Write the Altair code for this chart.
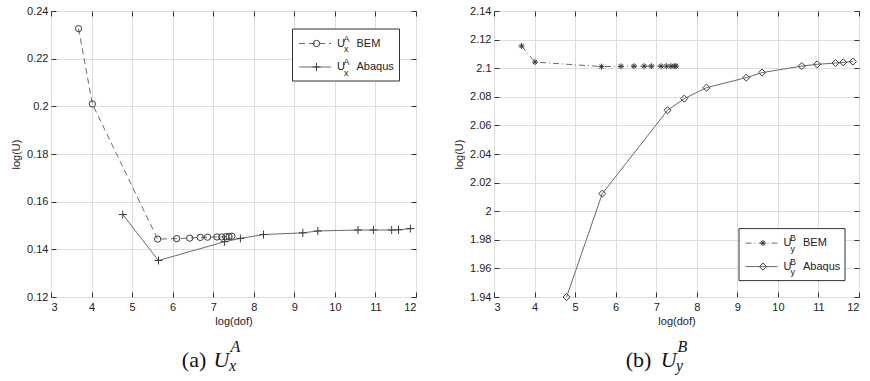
import altair as alt
import pandas as pd

# ---------------- data ----------------
# Panel (a): U_x^A
a_bem_x = [3.68, 4.02, 5.63, 6.10, 6.42, 6.68, 6.86, 7.09, 7.21, 7.31, 7.39, 7.46]
a_bem_y = [0.2326, 0.2010, 0.1443, 0.1445, 0.1447, 0.1450, 0.1451, 0.1452, 0.1452, 0.1453, 0.1454, 0.1455]
a_abq_x = [4.77, 5.65, 7.28, 7.67, 8.24, 9.21, 9.58, 10.57, 10.95, 11.40, 11.57, 11.86]
a_abq_y = [0.1546, 0.1353, 0.1432, 0.1446, 0.1462, 0.1469, 0.1477, 0.1481, 0.1481, 0.1481, 0.1482, 0.1487]

# Panel (b): U_y^B
b_bem_x = [3.68, 4.01, 5.65, 6.13, 6.45, 6.70, 6.88, 7.12, 7.25, 7.36, 7.44, 7.49]
b_bem_y = [2.1155, 2.1043, 2.1011, 2.1013, 2.1014, 2.1014, 2.1014, 2.1014, 2.1014, 2.1014, 2.1014, 2.1015]
b_abq_x = [4.79, 5.67, 7.28, 7.69, 8.24, 9.22, 9.61, 10.59, 10.97, 11.42, 11.61, 11.85]
b_abq_y = [1.9400, 2.0123, 2.0706, 2.0787, 2.0864, 2.0934, 2.0969, 2.1015, 2.1027, 2.1036, 2.1041, 2.1046]

x_ticks = [3, 4, 5, 6, 7, 8, 9, 10, 11, 12]
a_y_ticks = [0.12, 0.14, 0.16, 0.18, 0.20, 0.22, 0.24]
b_y_ticks = [1.94, 1.96, 1.98, 2.00, 2.02, 2.04, 2.06, 2.08, 2.10, 2.12, 2.14]

x_label = "log(dof)"
y_label = "log(U)"

# ---------------- styling ----------------
W, H = 365, 286
SANS = "Liberation Sans"
SERIF = "Liberation Serif"
LINE_C = "#6a6a6a"
MARK_C = "#3a3a3a"
AX_C = "#333333"

PLUS = "M-1,0L1,0M0,-1L0,1"
STAR = "M-1,0L1,0M0,-1L0,1M-0.7,-0.7L0.7,0.7M-0.7,0.7L0.7,-0.7"

one = pd.DataFrame({"k": [0]})


def axes(yticks, main):
    if main:
        ax = alt.Axis(orient="bottom", values=x_ticks, format="d", offset=-5, tickSize=5,
                      domain=False, labelPadding=4, title=x_label, titlePadding=3,
                      labelFont=SANS, titleFont=SANS, labelFontSize=11, titleFontSize=11,
                      titleFontWeight="normal", tickColor=AX_C, labelColor="#222",
                      titleColor="#222")
        ay = alt.Axis(orient="left", values=yticks, format="~g", offset=-5, tickSize=5,
                      domain=False, labelPadding=3, title=y_label, titlePadding=5,
                      labelFont=SANS, titleFont=SANS, labelFontSize=11, titleFontSize=11,
                      titleFontWeight="normal", tickColor=AX_C, labelColor="#222",
                      titleColor="#222")
    else:
        ax = alt.Axis(orient="top", values=x_ticks, labels=False, offset=-5, tickSize=5,
                      domain=False, title=None, tickColor=AX_C)
        ay = alt.Axis(orient="right", values=yticks, labels=False, offset=-5, tickSize=5,
                      domain=False, title=None, tickColor=AX_C)
    return ax, ay


def panel(bx, by, ax_, ay_, ydom, yticks, bem_shape, bem_size, bem_dash, abq_shape, abq_size,
          leg_x0, leg_y0, leg_w, sub, sup, tag, cap_offsets):
    xs = alt.Scale(domain=[3, 12], nice=False, zero=False)
    ys = alt.Scale(domain=ydom, nice=False, zero=False)
    bem = pd.DataFrame({"x": bx, "y": by})
    abq = pd.DataFrame({"x": ax_, "y": ay_})

    axm = axes(yticks, True)
    axo = axes(yticks, False)

    def enc(axis_pair):
        if axis_pair is None:
            return dict(x=alt.X("x:Q", scale=xs, axis=None), y=alt.Y("y:Q", scale=ys, axis=None))
        return dict(x=alt.X("x:Q", scale=xs, axis=axis_pair[0]),
                    y=alt.Y("y:Q", scale=ys, axis=axis_pair[1]))

    l_bem = alt.Chart(bem).mark_line(color=LINE_C, strokeWidth=1, strokeDash=bem_dash).encode(**enc(axm))
    l_abq = alt.Chart(abq).mark_line(color=LINE_C, strokeWidth=1).encode(**enc(axo))
    p_bem = alt.Chart(bem).mark_point(shape=bem_shape, size=bem_size, filled=False,
                                      color=MARK_C, strokeWidth=1, opacity=1).encode(**enc(None))
    p_abq = alt.Chart(abq).mark_point(shape=abq_shape, size=abq_size, filled=False,
                                      color=MARK_C, strokeWidth=1, opacity=1).encode(**enc(None))

    layers = [l_bem, l_abq, p_bem, p_abq]

    # legend box
    leg_h = 52
    layers.append(alt.Chart(one).mark_rect(fill="white", stroke=AX_C, strokeWidth=1).encode(
        x=alt.value(leg_x0), x2=alt.value(leg_x0 + leg_w), y=alt.value(leg_y0), y2=alt.value(leg_y0 + leg_h)))
    rows = [(leg_y0 + 14.5, bem_dash, bem_shape, bem_size, "BEM"),
            (leg_y0 + 38.0, None, abq_shape, abq_size, "Abaqus")]
    for ry, dash, shp, sz, name in rows:
        rule_kw = dict(color=LINE_C, strokeWidth=1)
        if dash is not None:
            rule_kw["strokeDash"] = dash
        layers.append(alt.Chart(one).mark_rule(**rule_kw).encode(
            x=alt.value(leg_x0 + 6.5), x2=alt.value(leg_x0 + 38.5), y=alt.value(ry)))
        layers.append(alt.Chart(one).mark_point(shape=shp, size=sz, filled=False, color=MARK_C,
                                                strokeWidth=1, opacity=1).encode(
            x=alt.value(leg_x0 + 24), y=alt.value(ry)))
        layers.append(alt.Chart(one).mark_text(text="U", font=SANS, fontSize=11, align="left",
                                               baseline="middle", color="#222").encode(
            x=alt.value(leg_x0 + 44.5), y=alt.value(ry)))
        layers.append(alt.Chart(one).mark_text(text=sup, font=SANS, fontSize=9, align="left",
                                               baseline="middle", color="#222").encode(
            x=alt.value(leg_x0 + 51), y=alt.value(ry - 5)))
        layers.append(alt.Chart(one).mark_text(text=sub, font=SANS, fontSize=9, align="left",
                                               baseline="middle", color="#222").encode(
            x=alt.value(leg_x0 + 51.5), y=alt.value(ry + 5.5)))
        layers.append(alt.Chart(one).mark_text(text=name, font=SANS, fontSize=11, align="left",
                                               baseline="middle", color="#222").encode(
            x=alt.value(leg_x0 + 64), y=alt.value(ry)))

    # caption below the panel
    c_tag, c_u, c_sup, c_sub = cap_offsets
    base_y = 356
    layers.append(alt.Chart(one).mark_text(text=tag, font=SERIF, fontSize=22, align="left",
                                           baseline="alphabetic", color="#111").encode(
        x=alt.value(c_tag), y=alt.value(base_y)))
    layers.append(alt.Chart(one).mark_text(text="U", font=SERIF, fontSize=22, fontStyle="italic",
                                           align="left", baseline="alphabetic", color="#111").encode(
        x=alt.value(c_u), y=alt.value(base_y)))
    layers.append(alt.Chart(one).mark_text(text=sup, font=SERIF, fontSize=16, fontStyle="italic",
                                           align="left", baseline="alphabetic", color="#111").encode(
        x=alt.value(c_sup), y=alt.value(base_y - 15)))
    layers.append(alt.Chart(one).mark_text(text=sub, font=SERIF, fontSize=16, fontStyle="italic",
                                           align="left", baseline="alphabetic", color="#111").encode(
        x=alt.value(c_sub), y=alt.value(base_y + 3.5)))

    return alt.layer(*layers).resolve_axis(x="independent", y="independent").properties(
        width=W, height=H)


left = panel(a_bem_x, a_bem_y, a_abq_x, a_abq_y, [0.12, 0.24], a_y_ticks,
             "circle", 40, [6, 4], PLUS, 64,
             241.5, 18, 107, "x", "A", "(a)", (130.8, 162.5, 179.5, 178.0))
right = panel(b_bem_x, b_bem_y, b_abq_x, b_abq_y, [1.94, 2.14], b_y_ticks,
              STAR, 36, [6, 3, 1, 3], "diamond", 50,
              245, 217.6, 106, "y", "B", "(b)", (131.7, 166.7, 183.5, 182.0))

chart = alt.hconcat(left, right, spacing=36).properties(
    padding={"left": 10, "top": 4, "right": 5, "bottom": 5}
).configure_view(stroke=AX_C, strokeWidth=1).configure(background="white")

chart.save("out.html", embed_options={"renderer": "svg", "actions": False})
